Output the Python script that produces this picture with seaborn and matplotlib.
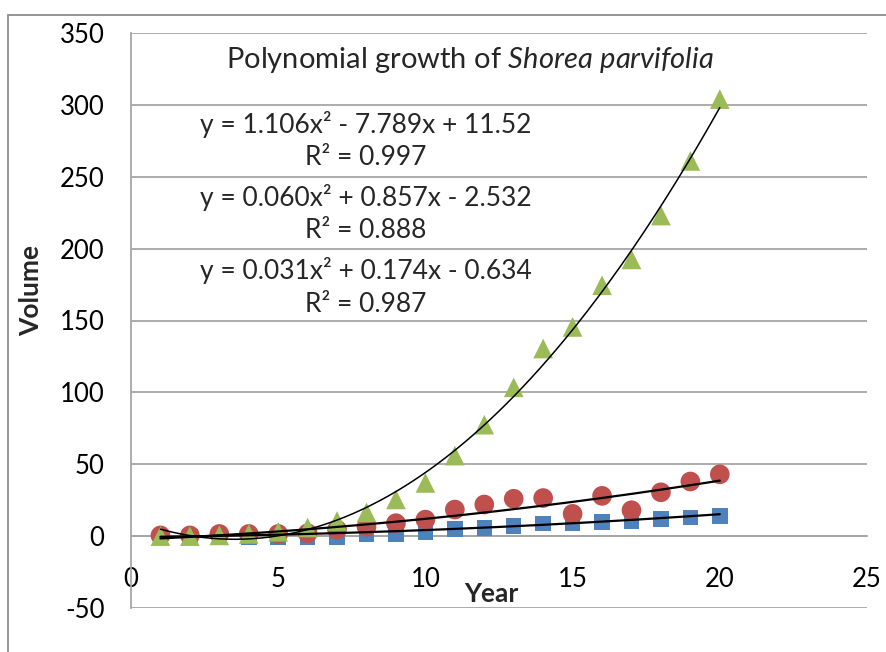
import numpy as np
import pandas as pd
import seaborn as sns
import matplotlib.pyplot as plt
from matplotlib.patches import Rectangle

# Data
year = list(range(1, 21))
vol_blue = [-0.5, -0.5, -1, -1, -0.5, -0.5, -0.5, 1, 1, 2.5,
            4.8, 5.5, 7, 8.8, 9, 10, 10.5, 12, 13, 14]
vol_red = [0.5, 0.5, 1.5, 1.5, 1.5, 2, 4.5, 6.5, 9, 11.5,
           18.5, 22, 26, 26.5, 15.5, 28, 18, 30.5, 38, 43]
vol_green = [0, 0, 0.5, 1.5, 3, 6, 10.5, 16.5, 25.5, 37,
             56, 77.5, 103.5, 130.5, 145.5, 174.5, 192.5, 223, 261, 304]

# trend line coefficients shown on the chart
coef_green = [1.106, -7.789, 11.52]
coef_red = [0.060, 0.857, -2.532]
coef_blue = [0.031, 0.174, -0.634]
labels = ["y = 1.106x\u00b2 - 7.789x + 11.52", "R\u00b2 = 0.997",
          "y = 0.060x\u00b2 + 0.857x - 2.532", "R\u00b2 = 0.888",
          "y = 0.031x\u00b2 + 0.174x - 0.634", "R\u00b2 = 0.987"]

sns.set_theme(style="white")
plt.rcParams["font.family"] = ["Lato", "DejaVu Sans"]
plt.rcParams["mathtext.fontset"] = "custom"
plt.rcParams["mathtext.rm"] = "Lato"
plt.rcParams["mathtext.it"] = "Lato:italic"
plt.rcParams["axes.unicode_minus"] = False

fig = plt.figure(figsize=(8.86, 6.52), dpi=100)
ax = fig.add_axes([131/886, 1-608/652, 736/886, 575/652])

grid_c = "#a6a6a6"
sns.scatterplot(x=year, y=vol_blue, marker="s", s=125, color="#4f81bd", edgecolor="none", ax=ax, zorder=3)
sns.scatterplot(x=year, y=vol_red, marker="o", s=200, color="#c0504d", edgecolor="none", ax=ax, zorder=3)
sns.scatterplot(x=year, y=vol_green, marker="^", s=200, color="#9bbb59", edgecolor="none", ax=ax, zorder=3)

xs = np.linspace(1, 20, 200)
for coef, lw in [(coef_green, 1.1), (coef_red, 1.6), (coef_blue, 1.6)]:
    sns.lineplot(x=xs, y=np.polyval(coef, xs), color="black", linewidth=lw, ax=ax, zorder=4)

ax.set_xlim(0, 25)
ax.set_ylim(-50, 350)
ax.set_xticks(range(0, 26, 5))
ax.set_yticks(range(-50, 351, 50))
ax.yaxis.grid(True, color=grid_c, linewidth=1.3)
ax.set_axisbelow(True)

for s in ["top", "right"]:
    ax.spines[s].set_visible(False)
ax.spines["left"].set_color(grid_c)
ax.spines["left"].set_linewidth(1.3)
ax.spines["bottom"].set_position(("data", 0))
ax.spines["bottom"].set_color(grid_c)
ax.spines["bottom"].set_linewidth(1.3)
ax.tick_params(axis="x", length=0, pad=22, labelsize=18.5, colors="black")
ax.tick_params(axis="y", length=0, pad=19, labelsize=18.5, colors="black")

ax.set_xlabel("Year", fontsize=19, fontweight="bold")
ax.xaxis.set_label_coords(0.49, 0.046)
ax.set_ylabel("Volume", fontsize=19, fontweight="bold")
ax.yaxis.set_label_coords(-0.12, 0.553)

ax.text((470-131)/736, (608-60)/575, r"Polynomial growth of $\it{Shorea\ parvifolia}$",
        transform=ax.transAxes, ha="center", va="center", fontsize=21)
ys = [125, 158, 198, 231, 271, 305]
for lab, yp in zip(labels, ys):
    ax.text((366-131)/736, (608-yp)/575, lab, transform=ax.transAxes,
            ha="center", va="center", fontsize=19)

fig.patches.append(Rectangle((8/886, -0.1), 1.2, 1.1 - 15/652, transform=fig.transFigure,
                             fill=False, edgecolor="#8c8c8c", linewidth=1.3))

fig.savefig("out.png", dpi=100)
